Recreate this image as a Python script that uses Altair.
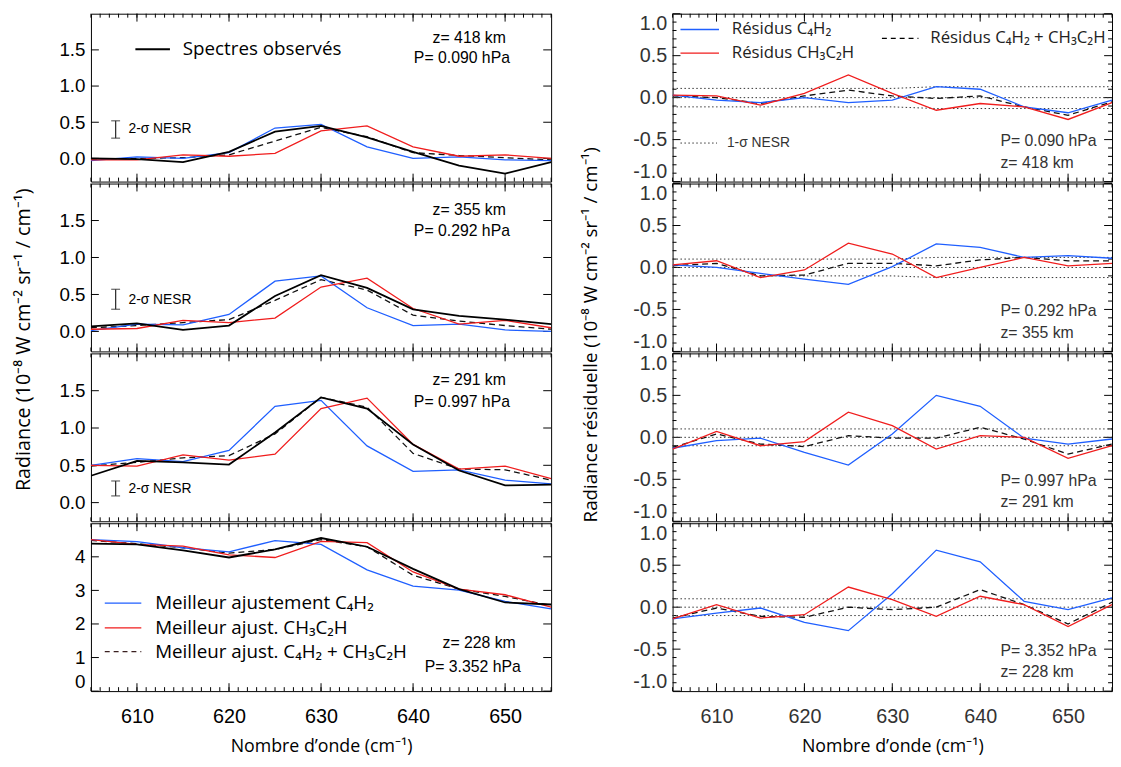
import altair as alt
import pandas as pd

# ---------------- data ----------------
WAVENUMBER = [605, 610, 615, 620, 625, 630, 635, 640, 645, 650, 655]
X_LABELS = [610, 620, 630, 640, 650]
X_MINOR_TICKS = list(range(605, 656))
X_MAJOR_TICKS = [610, 620, 630, 640, 650]

ALTITUDE = ["418", "355", "291", "228"]
PRESSURE = ["0.090", "0.292", "0.997", "3.352"]

# observed spectra and best fits (left column)
obs_418 = [0.00, -0.01, -0.05, 0.09, 0.37, 0.45, 0.29, 0.09, -0.10, -0.21, -0.05]
fit_c4h2_418 = [-0.03, 0.02, 0.00, 0.08, 0.42, 0.47, 0.16, 0.00, 0.02, -0.02, -0.03]
fit_ch3c2h_418 = [-0.02, -0.02, 0.05, 0.03, 0.07, 0.38, 0.45, 0.16, 0.03, 0.05, 0.00]
fit_both_418 = [-0.01, 0.00, 0.01, 0.05, 0.24, 0.43, 0.30, 0.08, 0.04, 0.01, -0.02]

obs_355 = [0.07, 0.11, 0.02, 0.08, 0.48, 0.76, 0.59, 0.30, 0.21, 0.16, 0.10]
fit_c4h2_355 = [0.01, 0.10, 0.09, 0.23, 0.68, 0.75, 0.32, 0.08, 0.10, 0.02, 0.00]
fit_ch3c2h_355 = [0.03, 0.04, 0.15, 0.12, 0.18, 0.60, 0.72, 0.31, 0.10, 0.15, 0.05]
fit_both_355 = [0.05, 0.08, 0.12, 0.16, 0.42, 0.70, 0.56, 0.22, 0.14, 0.08, 0.03]

obs_291 = [0.36, 0.56, 0.54, 0.51, 0.94, 1.41, 1.26, 0.78, 0.43, 0.23, 0.24]
fit_c4h2_291 = [0.50, 0.59, 0.55, 0.70, 1.29, 1.37, 0.76, 0.42, 0.44, 0.30, 0.25]
fit_ch3c2h_291 = [0.50, 0.49, 0.64, 0.57, 0.65, 1.26, 1.40, 0.78, 0.45, 0.49, 0.32]
fit_both_291 = [0.49, 0.54, 0.60, 0.63, 0.92, 1.41, 1.28, 0.66, 0.45, 0.44, 0.30]

obs_228 = [4.39, 4.37, 4.19, 3.98, 4.22, 4.56, 4.30, 3.64, 3.04, 2.64, 2.58]
fit_c4h2_228 = [4.51, 4.45, 4.27, 4.15, 4.48, 4.37, 3.61, 3.13, 3.01, 2.67, 2.45]
fit_ch3c2h_228 = [4.51, 4.37, 4.32, 4.06, 3.98, 4.46, 4.42, 3.55, 3.04, 2.87, 2.50]
fit_both_228 = [4.49, 4.39, 4.27, 4.11, 4.22, 4.51, 4.30, 3.45, 3.04, 2.82, 2.55]

# residuals (right column)
res_c4h2_418 = [0.03, -0.03, -0.06, 0.00, -0.06, -0.03, 0.13, 0.10, -0.11, -0.18, -0.03]
res_ch3c2h_418 = [0.03, 0.02, -0.09, 0.05, 0.27, 0.05, -0.15, -0.07, -0.11, -0.26, -0.06]
res_both_418 = [0.02, 0.00, -0.07, 0.02, 0.09, 0.02, -0.01, 0.02, -0.11, -0.21, -0.05]

res_c4h2_355 = [0.03, 0.00, -0.07, -0.14, -0.20, 0.01, 0.28, 0.24, 0.12, 0.14, 0.11]
res_ch3c2h_355 = [0.03, 0.08, -0.12, -0.03, 0.29, 0.16, -0.12, 0.00, 0.12, 0.02, 0.05]
res_both_355 = [0.02, 0.05, -0.10, -0.09, 0.05, 0.05, 0.02, 0.09, 0.12, 0.08, 0.08]

res_c4h2_291 = [-0.13, -0.04, -0.01, -0.18, -0.33, 0.04, 0.50, 0.37, -0.01, -0.08, -0.02]
res_ch3c2h_291 = [-0.14, 0.07, -0.10, -0.05, 0.30, 0.14, -0.14, 0.02, 0.00, -0.25, -0.10]
res_both_291 = [-0.12, 0.04, -0.08, -0.11, 0.02, -0.01, -0.01, 0.12, -0.02, -0.20, -0.08]

res_c4h2_228 = [-0.14, -0.07, -0.01, -0.18, -0.28, 0.16, 0.68, 0.54, 0.07, -0.03, 0.11]
res_ch3c2h_228 = [-0.14, 0.03, -0.13, -0.09, 0.24, 0.09, -0.11, 0.13, 0.03, -0.23, 0.03]
res_both_228 = [-0.13, -0.01, -0.11, -0.12, 0.00, -0.03, 0.00, 0.21, 0.03, -0.20, 0.06]

# 1-sigma NESR (dotted lines, right column)
sigma_418 = [0.11, 0.11, 0.11, 0.11, 0.11, 0.11, 0.13, 0.13, 0.13, 0.13, 0.13]
sigma_355 = [0.10, 0.10, 0.10, 0.10, 0.10, 0.10, 0.12, 0.12, 0.12, 0.12, 0.12]
sigma_291 = [0.10, 0.10, 0.10, 0.10, 0.10, 0.10, 0.10, 0.10, 0.10, 0.10, 0.10]
sigma_228 = [0.10, 0.10, 0.10, 0.10, 0.10, 0.10, 0.10, 0.10, 0.10, 0.10, 0.10]

# 2-sigma NESR error bars (left column, panels 1-3)
NESR2_LO = [0.28, 0.30, 0.09]
NESR2_HI = [0.52, 0.57, 0.29]

LEFT_DOMAINS = [[-0.32, 2.0], [-0.27, 2.0], [-0.25, 2.0], [0, 5]]
Y_LEFT_LABELS = [0.0, 0.5, 1.0, 1.5]
Y_LEFT_LABELS_228 = [0, 1, 2, 3, 4]
Y_RES_LABELS = [-1.0, -0.5, 0.0, 0.5, 1.0]
Y_RES_MINOR = [-0.9, -0.8, -0.7, -0.6, -0.4, -0.3, -0.2, -0.1,
               0.1, 0.2, 0.3, 0.4, 0.6, 0.7, 0.8, 0.9]

SPECTRA = [
    (obs_418, fit_c4h2_418, fit_ch3c2h_418, fit_both_418),
    (obs_355, fit_c4h2_355, fit_ch3c2h_355, fit_both_355),
    (obs_291, fit_c4h2_291, fit_ch3c2h_291, fit_both_291),
    (obs_228, fit_c4h2_228, fit_ch3c2h_228, fit_both_228),
]
RESIDUALS = [
    (res_c4h2_418, res_ch3c2h_418, res_both_418, sigma_418),
    (res_c4h2_355, res_ch3c2h_355, res_both_355, sigma_355),
    (res_c4h2_291, res_ch3c2h_291, res_both_291, sigma_291),
    (res_c4h2_228, res_ch3c2h_228, res_both_228, sigma_228),
]

# ---------------- style ----------------
BLUE = "#1f5fff"
RED = "#f01d1d"
H = 170
WL = 466
WR = 445
LAB = "Liberation Sans"
TIT = "Open Sans"


def x_encoder(bottom, color):
    scale = alt.Scale(domain=[605, 655], nice=False, zero=False)
    if bottom:
        axis = alt.Axis(values=X_LABELS, format="d", ticks=False, domain=False, grid=False,
                        labelFont=LAB, labelFontSize=20, labelColor=color, labelPadding=16,
                        title="Nombre d’onde (cm⁻¹)", titleFont=TIT, titleFontSize=18,
                        titleFontWeight="normal", titleColor="black", titlePadding=11)
    else:
        axis = None
    return lambda f: alt.X(f"{f}:Q", scale=scale, axis=axis)


def y_encoder(domain, values, fmt, size, color, flush):
    scale = alt.Scale(domain=domain, nice=False, zero=False)
    axis = alt.Axis(values=values, format=fmt, ticks=False, domain=False, grid=False,
                    labelFont=LAB, labelFontSize=size, labelColor=color, labelPadding=6,
                    labelFlush=flush, labelOverlap=False, title=None,
                    labelExpr="replace(datum.label, '−', '-')")
    return lambda f: alt.Y(f"{f}:Q", scale=scale, axis=axis)


def line(values, ex, ey, color, width=1.3, dash=None):
    df = pd.DataFrame({"nu": WAVENUMBER, "v": values})
    props = dict(color=color, strokeWidth=width, clip=True)
    if dash:
        props["strokeDash"] = dash
    return alt.Chart(df).mark_line(**props).encode(x=ex("nu"), y=ey("v"))


def tick_layers(ex, ey, width, y_major, y_minor, color):
    """Inward-pointing ticks on all four sides of the frame."""
    out = []
    for vals, ln in ((X_MINOR_TICKS, 4), (X_MAJOR_TICKS, 8)):
        df = pd.DataFrame({"nu": vals})
        out.append(alt.Chart(df).mark_rule(color=color, strokeWidth=1)
                   .encode(x=ex("nu"), y=alt.value(H), y2=alt.value(H - ln)))
        out.append(alt.Chart(df).mark_rule(color=color, strokeWidth=1)
                   .encode(x=ex("nu"), y=alt.value(0), y2=alt.value(ln)))
    for vals, ln in ((y_minor, 4), (y_major, 8)):
        if not vals:
            continue
        df = pd.DataFrame({"v": vals})
        out.append(alt.Chart(df).mark_rule(color=color, strokeWidth=1)
                   .encode(y=ey("v"), x=alt.value(0), x2=alt.value(ln)))
        out.append(alt.Chart(df).mark_rule(color=color, strokeWidth=1)
                   .encode(y=ey("v"), x=alt.value(width), x2=alt.value(width - ln)))
    return out


def label(txt, x, y, size, font=LAB, color="black"):
    return alt.Chart(pd.DataFrame({"t": [txt]})).mark_text(
        align="left", baseline="middle", font=font, fontSize=size, color=color
    ).encode(x=alt.value(x), y=alt.value(y), text="t:N")


def seg(x1, x2, y, color, width=1.3, dash=None):
    props = dict(color=color, strokeWidth=width)
    if dash:
        props["strokeDash"] = dash
    return alt.Chart(pd.DataFrame({"t": [0]})).mark_rule(**props).encode(
        x=alt.value(x1), x2=alt.value(x2), y=alt.value(y))


# ---------------- left column ----------------
left_panels = []
Z_Y = [25, 27, 27, 121]
P_Y = [45, 48, 49, 146]
NESR_TXT_Y = [117, 118, 137]
for i, (obs, c4, ch3, both) in enumerate(SPECTRA):
    ex = x_encoder(i == 3, "black")
    if i < 3:
        ey = y_encoder(LEFT_DOMAINS[i], Y_LEFT_LABELS, ".1f", 19, "black", False)
        ymaj = Y_LEFT_LABELS
    else:
        ey = y_encoder(LEFT_DOMAINS[i], Y_LEFT_LABELS_228, "d", 19, "black", True)
        ymaj = Y_LEFT_LABELS_228
    layers = tick_layers(ex, ey, WL, ymaj, [], "black")
    layers += [
        line(both, ex, ey, "#111111", 1.3, [6, 4]),
        line(c4, ex, ey, BLUE, 1.3),
        line(ch3, ex, ey, RED, 1.3),
        line(obs, ex, ey, "black", 1.8),
    ]
    if i < 3:
        bar = pd.DataFrame({"v": [NESR2_LO[i]], "v2": [NESR2_HI[i]]})
        caps = pd.DataFrame({"v": [NESR2_LO[i], NESR2_HI[i]]})
        layers += [
            alt.Chart(bar).mark_rule(color="#333333", strokeWidth=1.3).encode(
                x=alt.value(25), y=ey("v"), y2="v2:Q"),
            alt.Chart(caps).mark_tick(orient="horizontal", color="#333333", thickness=1.3, size=9).encode(
                x=alt.value(25), y=ey("v")),
            label("2-σ NESR", 38, NESR_TXT_Y[i], 14),
        ]
        zx, px = 346, 327
    else:
        zx, px = 356, 338
    layers += [
        label(f"z= {ALTITUDE[i]} km", zx, Z_Y[i], 16),
        label(f"P= {PRESSURE[i]} hPa", px, P_Y[i], 16),
    ]
    if i == 0:
        layers += [seg(45, 80, 36, "black", 1.8),
                   label("Spectres observés", 93, 36, 19, TIT)]
    if i == 3:
        layers += [
            seg(14, 51, 81, BLUE), label("Meilleur ajustement C₄H₂", 65, 81, 19, TIT),
            seg(14, 51, 106, RED), label("Meilleur ajust. CH₃C₂H", 65, 106, 19, TIT),
            seg(14, 51, 130, "#3a2020", 1.3, [5, 4]),
            label("Meilleur ajust. C₄H₂ + CH₃C₂H", 65, 130, 19, TIT),
        ]
    left_panels.append(alt.layer(*layers).properties(width=WL, height=H))

left_col = alt.vconcat(
    *left_panels, spacing=0,
    title=alt.TitleParams("Radiance (10⁻⁸ W cm⁻² sr⁻¹ / cm⁻¹)", orient="left", anchor="middle",
                          font=TIT, fontSize=20, fontWeight="normal", color="black",
                          offset=25, dx=45),
).resolve_scale(x="independent", y="independent")

# ---------------- right column ----------------
right_panels = []
for i, (c4, ch3, both, sig) in enumerate(RESIDUALS):
    ex = x_encoder(i == 3, "#333333")
    ey = y_encoder([-1.0, 1.0], Y_RES_LABELS, ".1f", 20, "#333333", True)
    layers = tick_layers(ex, ey, WR, Y_RES_LABELS, Y_RES_MINOR, "black")
    zeros = [0.0 for _ in sig]
    neg = [-s for s in sig]
    layers += [
        line(sig, ex, ey, "#333333", 1, [1.5, 2.5]),
        line(zeros, ex, ey, "#333333", 1, [1.5, 2.5]),
        line(neg, ex, ey, "#333333", 1, [1.5, 2.5]),
        line(both, ex, ey, "#111111", 1.3, [6, 4]),
        line(c4, ex, ey, BLUE, 1.3),
        line(ch3, ex, ey, RED, 1.3),
        label(f"P= {PRESSURE[i]} hPa", 332, 129, 16, LAB, "#333333"),
        label(f"z= {ALTITUDE[i]} km", 332, 151, 16, LAB, "#333333"),
    ]
    if i == 0:
        layers += [
            seg(8, 47, 16, BLUE), label("Résidus C₄H₂", 60, 16, 17, TIT, "#222222"),
            seg(8, 47, 40, RED), label("Résidus CH₃C₂H", 60, 40, 17, TIT, "#222222"),
            seg(212, 249, 25, "black", 1.3, [5, 4]),
            label("Résidus C₄H₂ + CH₃C₂H", 261, 25, 17, TIT, "#222222"),
            seg(8, 45, 131, "#333333", 1, [1.5, 2.5]),
            label("1-σ NESR", 55, 131, 14, LAB, "#333333"),
        ]
    right_panels.append(alt.layer(*layers).properties(width=WR, height=H))

right_col = alt.vconcat(
    *right_panels, spacing=0,
    title=alt.TitleParams("Radiance résiduelle (10⁻⁸ W cm⁻² sr⁻¹ / cm⁻¹)", orient="left",
                          anchor="middle", font=TIT, fontSize=19, fontWeight="normal",
                          color="black", offset=32, dx=50),
).resolve_scale(x="independent", y="independent")

chart = (
    alt.hconcat(left_col, right_col, spacing=30)
    .resolve_scale(x="independent", y="independent")
    .properties(padding={"left": 6, "top": 0, "right": 0, "bottom": 0})
    .configure_view(stroke="black", strokeWidth=1)
)

chart.save("out.html", embed_options={"renderer": "svg", "actions": False})
